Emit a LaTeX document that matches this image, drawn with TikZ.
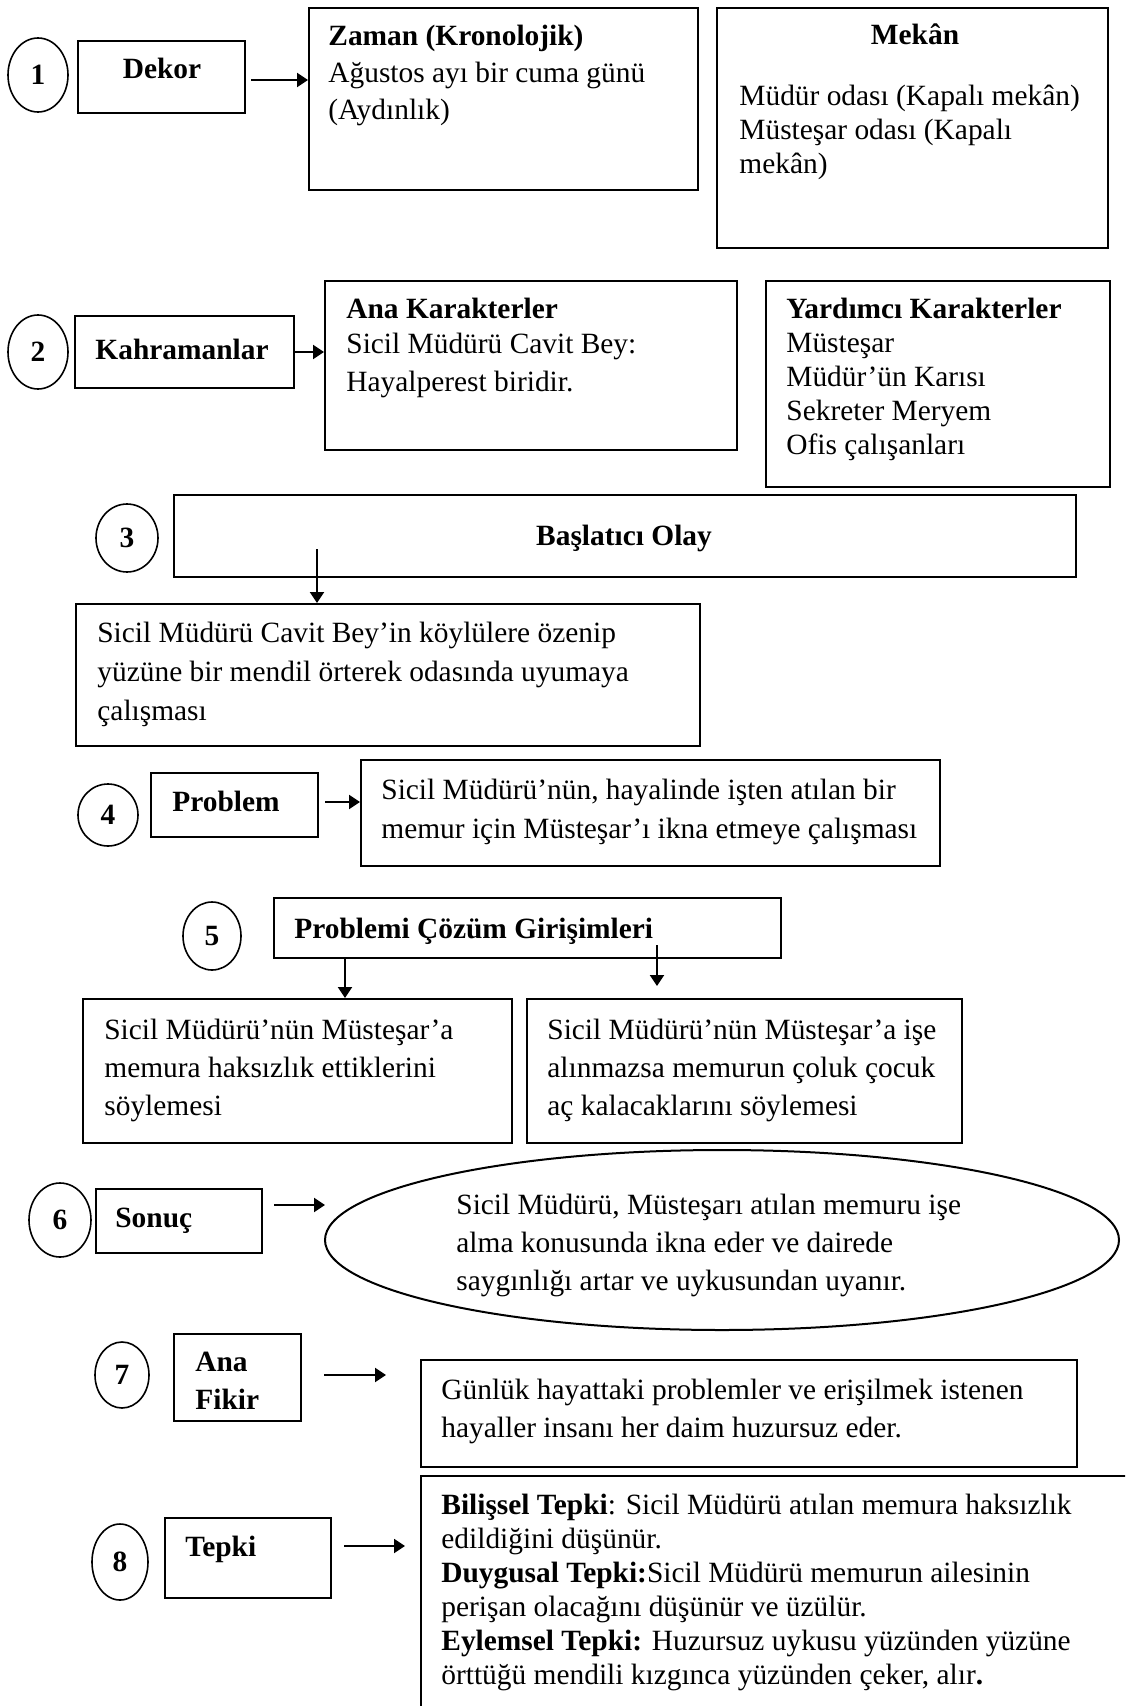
\documentclass[tikz,border=0pt]{standalone}
\usepackage{fontspec}
\setmainfont{Liberation Serif}
\usetikzlibrary{fit,shapes.geometric,arrows.meta}
\newcommand\firststrut{\rule{0pt}{14pt}}
\begin{document}
\begin{tikzpicture}[x=0.5pt,y=-0.5pt,
  box/.style={draw, line width=1pt, inner sep=0pt, fit={#1}},
  numc/.style={draw, ellipse, line width=0.8pt, inner sep=0pt, font=\bfseries\fontsize{14.7}{17}\selectfont},
  txt/.style={anchor=north west, inner sep=0pt, align=left, font=\fontsize{14.7}{#1}\selectfont},
  btxt/.style={anchor=north west, inner sep=0pt, align=left, font=\bfseries\fontsize{14.7}{#1}\selectfont},
  ttl/.style={inner sep=0pt, font=\bfseries\fontsize{14.7}{17}\selectfont},
  arr/.style={line width=1pt, -{Triangle[length=5.5pt,width=7pt]}}]
\useasboundingbox (0,0) rectangle (1125,1706);
\clip (0,0) rectangle (1125,1706);
\fill[white] (0,0) rectangle (1125,1706);

% ---------- 1 ----------
\node[numc, minimum width=30pt, minimum height=37pt] (c1) at (38,75) {1};
\node[box={(78,41) (245,113)}] (dekor) {};
\node[ttl, anchor=base] (dekort) at (162,79) {Dekor};
\node[box={(309,8) (698,190)}] (zaman) {};
\node[txt=18.5pt] (zamant) at (328,17) {\firststrut\textbf{Zaman (Kronolojik)}\\Ağustos ayı bir cuma günü\\(Aydınlık)};
\node[box={(717,8) (1108,248)}] (mekan) {};
\node[ttl, anchor=base] (mekant) at (915,45) {Mekân};
\node[txt=17pt] (mekanl) at (739,77) {\firststrut Müdür odası (Kapalı mekân)\\Müsteşar odası (Kapalı\\mekân)};
\draw[arr] ([xshift=2.5pt,yshift=-1.5pt]dekor.east) -- ([yshift=-1.5pt]dekor.east -| zaman.west);

% ---------- 2 ----------
\node[numc, minimum width=30pt, minimum height=37pt] (c2) at (38,352) {2};
\node[box={(75,316) (294,388)}] (kah) {};
\node[ttl, anchor=base] (kaht) at (182,359) {Kahramanlar};
\node[box={(325,281) (737,450)}] (ana) {};
\node[txt=17.5pt] (anat) at (346,290) {\firststrut\textbf{Ana Karakterler}\\Sicil Müdürü Cavit Bey:\\[1.5pt]Hayalperest biridir.};
\node[box={(766,281) (1110,487)}] (yard) {};
\node[txt=17pt] (yardt) at (786,290) {\firststrut\textbf{Yardımcı Karakterler}\\Müsteşar\\Müdür’ün Karısı\\Sekreter Meryem\\Ofis çalışanları};
\draw[arr] (kah.east) -- (kah.east -| ana.west);

% ---------- 3 ----------
\node[numc, minimum width=31pt, minimum height=34pt] (c3) at (127,538) {3};
\node[box={(174,495) (1076,577)}] (bas) {};
\node[ttl, anchor=base] (bast) at (624,545) {Başlatıcı Olay};
\node[box={(76,604) (700,746)}] (olay) {};
\node[txt=19.5pt] (olayt) at (97,614) {\firststrut Sicil Müdürü Cavit Bey’in köylülere özenip\\yüzüne bir mendil örterek odasında uyumaya\\çalışması};
\coordinate (a3) at (317,549);
\draw[arr] (a3) -- (a3 |- olay.north);

% ---------- 4 ----------
\node[numc, minimum width=30pt, minimum height=31pt] (c4) at (108,815) {4};
\node[box={(151,773) (318,837)}] (prob) {};
\node[ttl, anchor=base west] (probt) at (172,811) {Problem};
\node[box={(361,760) (940,866)}] (pdesc) {};
\node[txt=19.5pt] (pdesct) at (381,771) {\firststrut Sicil Müdürü’nün, hayalinde işten atılan bir\\memur için Müsteşar’ı ikna etmeye çalışması};
\draw[arr] ([xshift=3pt,yshift=1.5pt]prob.east) -- ([yshift=1.5pt]prob.east -| pdesc.west);

% ---------- 5 ----------
\node[numc, minimum width=29pt, minimum height=34pt] (c5) at (212,936) {5};
\node[box={(274,898) (781,958)}] (pc) {};
\node[ttl, anchor=base west] (pct) at (294,938) {Problemi Çözüm Girişimleri};
\node[box={(83,999) (512,1143)}] (subl) {};
\node[txt=19pt] (sublt) at (104,1011) {\firststrut Sicil Müdürü’nün Müsteşar’a\\memura haksızlık ettiklerini\\söylemesi};
\node[box={(527,999) (962,1143)}] (subr) {};
\node[txt=19pt] (subrt) at (547,1011) {\firststrut Sicil Müdürü’nün Müsteşar’a işe\\alınmazsa memurun çoluk çocuk\\aç kalacaklarını söylemesi};
\coordinate (a5l) at (345,958);
\coordinate (a5r) at (657,945);
\coordinate (a5re) at (657,986);
\draw[arr] (a5l) -- (a5l |- subl.north);
\draw[arr] (a5r) -- (a5re);

% ---------- 6 ----------
\node[numc, minimum width=31pt, minimum height=37pt] (c6) at (60,1220) {6};
\node[box={(96,1189) (262,1253)}] (sonuc) {};
\node[ttl, anchor=base west] (sonuct) at (115,1227) {Sonuç};
\node[draw, ellipse, line width=1pt, inner sep=0pt, minimum width=397pt, minimum height=90pt] (res) at (722,1240) {};
\node[txt=19pt] (rest) at (456,1186) {\firststrut Sicil Müdürü, Müsteşarı atılan memuru işe\\alma konusunda ikna eder ve dairede\\saygınlığı artar ve uykusundan uyanır.};
\coordinate (a6s) at (274,1205);
\coordinate (a6e) at (325,1205);
\draw[arr] (a6s) -- (a6e);

% ---------- 7 ----------
\node[numc, minimum width=27pt, minimum height=33pt] (c7) at (122,1375) {7};
\node[box={(174,1334) (301,1421)}] (af) {};
\node[btxt=19pt] (aft) at (195,1343) {\firststrut Ana\\Fikir};
\node[box={(421,1360) (1077,1467)}] (fd) {};
\node[txt=19pt] (fdt) at (441,1371) {\firststrut Günlük hayattaki problemler ve erişilmek istenen\\hayaller insanı her daim huzursuz eder.};
\coordinate (a7s) at (324,1375);
\coordinate (a7e) at (386,1375);
\draw[arr] (a7s) -- (a7e);

% ---------- 8 ----------
\node[numc, minimum width=28pt, minimum height=38pt] (c8) at (120,1562) {8};
\node[box={(165,1518) (331,1598)}] (tep) {};
\node[ttl, anchor=base west] (tept) at (185,1556) {Tepki};
\node[box={(421,1476) (1160,1760)}] (b8) {};
\node[txt=17pt] (b8t) at (441,1486) {\firststrut\textbf{Bilişsel Tepki}: Sicil Müdürü atılan memura haksızlık\\edildiğini düşünür.\\\textbf{Duygusal Tepki:}Sicil Müdürü memurun ailesinin\\perişan olacağını düşünür ve üzülür.\\\textbf{Eylemsel Tepki:} Huzursuz uykusu yüzünden yüzüne\\örttüğü mendili kızgınca yüzünden çeker, alır\textbf{.}};
\coordinate (a8s) at (344,1546);
\coordinate (a8e) at (405,1546);
\draw[arr] (a8s) -- (a8e);
\end{tikzpicture}
\end{document}
